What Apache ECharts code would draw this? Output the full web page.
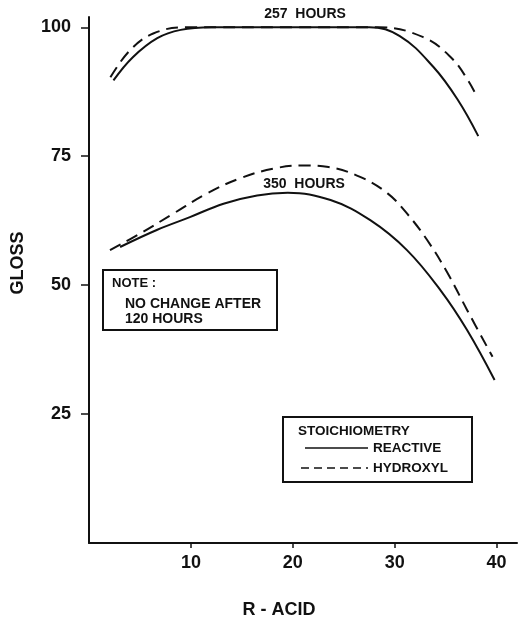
<!DOCTYPE html>
<html>
<head>
<meta charset="utf-8">
<script src="https://cdn.jsdelivr.net/npm/echarts@6/dist/echarts.min.js"></script>
<style>
  html, body { margin: 0; padding: 0; background: #fff; }
  #chart { width: 527px; height: 618px; }
</style>
</head>
<body>
<div id="chart"></div>
<script>
  // values: [R-acid, gloss]
  const reactive257 = [[2.4, 89.7], [4.3, 94.2], [6.7, 97.9], [9.0, 99.5], [12, 100], [20, 100], [27.5, 100], [30.5, 98.3], [33.8, 92.3], [36.2, 85.9], [38.2, 78.9]]
  const hydroxyl257 = [[2.1, 90.3], [4.0, 95.5], [6.3, 98.8], [9.5, 100], [20, 100], [28.5, 100], [32.8, 98.1], [35.5, 94.2], [37.2, 89.7], [38.1, 86.4]]
  const reactive350 = [[3.05, 57.4], [6.65, 60.7], [9.9, 63.2], [13.2, 65.8], [16.5, 67.4], [19.5, 67.9], [23.7, 66.5], [27.6, 62.6], [31.2, 56.8], [34.5, 49.0], [37.1, 41.3], [39.8, 31.6]]
  const hydroxyl350 = [[2.06, 56.8], [5.0, 60.0], [8.3, 63.9], [11.6, 67.8], [14.8, 70.7], [18.1, 72.6], [21.0, 73.2], [23.5, 72.9], [26.6, 71.0], [29.3, 67.8], [31.2, 63.9], [33.2, 58.7], [35.2, 52.3], [37.1, 45.2], [39.6, 36.1]]
  const xTicks = [10, 20, 30, 40]
  const yTicks = [25, 50, 75, 100]

  const font = 'Liberation Sans'
  const ink = '#111'
  const dash = [12, 7]

  function curve(data, dashed) {
    return {
      type: 'line',
      data: data,
      smooth: 0.4,
      showSymbol: false,
      lineStyle: { color: ink, width: 2, type: dashed ? dash : 'solid' }
    }
  }

  const myChart = echarts.init(document.getElementById('chart'))
  myChart.setOption({
    backgroundColor: '#fff',
    animation: false,
    grid: { left: 89, right: 10, top: 17, bottom: 75 },
    xAxis: {
      type: 'value',
      min: 0,
      max: 42,
      splitLine: { show: false },
      axisLine: { lineStyle: { color: ink, width: 2 } },
      axisTick: { customValues: xTicks, length: 5, lineStyle: { color: ink, width: 1.5 } },
      axisLabel: { customValues: xTicks, margin: 11, color: ink, fontFamily: font, fontWeight: 'bold', fontSize: 18 }
    },
    yAxis: {
      type: 'value',
      min: 0,
      max: 102,
      splitLine: { show: false },
      axisLine: { show: true, lineStyle: { color: ink, width: 2 } },
      axisTick: { show: true, customValues: yTicks, length: 8, lineStyle: { color: ink, width: 1.5 } },
      axisLabel: { customValues: yTicks, margin: 18, color: ink, fontFamily: font, fontWeight: 'bold', fontSize: 18 }
    },
    series: [
      curve(reactive257, false),
      curve(hydroxyl257, true),
      curve(reactive350, false),
      curve(hydroxyl350, true)
    ],
    graphic: [
      { type: 'text', x: 18, y: 263, rotation: Math.PI / 2,
        style: { text: 'GLOSS', fill: ink, font: 'bold 18px "Liberation Sans"', align: 'center', verticalAlign: 'middle' } },
      { type: 'text', x: 279, y: 610,
        style: { text: 'R - ACID', fill: ink, font: 'bold 18px "Liberation Sans"', align: 'center', verticalAlign: 'middle' } },
      { type: 'text', x: 305, y: 14,
        style: { text: '257  HOURS', fill: ink, font: 'bold 14px "Liberation Sans"', align: 'center', verticalAlign: 'middle' } },
      { type: 'text', x: 304, y: 184,
        style: { text: '350  HOURS', fill: ink, font: 'bold 14px "Liberation Sans"', align: 'center', verticalAlign: 'middle' } },
      // note box
      { type: 'rect', shape: { x: 103, y: 270, width: 174, height: 60 },
        style: { fill: '#fff', stroke: ink, lineWidth: 2 } },
      { type: 'text', x: 112, y: 283,
        style: { text: 'NOTE :', fill: ink, font: 'bold 13px "Liberation Sans"', verticalAlign: 'middle' } },
      { type: 'text', x: 125, y: 304,
        style: { text: 'NO CHANGE AFTER', fill: ink, font: 'bold 14px "Liberation Sans"', verticalAlign: 'middle' } },
      { type: 'text', x: 125, y: 319,
        style: { text: '120 HOURS', fill: ink, font: 'bold 14px "Liberation Sans"', verticalAlign: 'middle' } },
      // legend box
      { type: 'rect', shape: { x: 283, y: 417, width: 189, height: 65 },
        style: { fill: '#fff', stroke: ink, lineWidth: 2 } },
      { type: 'text', x: 298, y: 431,
        style: { text: 'STOICHIOMETRY', fill: ink, font: 'bold 13.5px "Liberation Sans"', verticalAlign: 'middle' } },
      { type: 'line', shape: { x1: 305, y1: 448, x2: 368, y2: 448 },
        style: { stroke: ink, lineWidth: 1.5 } },
      { type: 'text', x: 373, y: 448,
        style: { text: 'REACTIVE', fill: ink, font: 'bold 13.5px "Liberation Sans"', verticalAlign: 'middle' } },
      { type: 'line', shape: { x1: 301, y1: 468, x2: 368, y2: 468 },
        style: { stroke: ink, lineWidth: 1.5, lineDash: [8, 5] } },
      { type: 'text', x: 373, y: 468,
        style: { text: 'HYDROXYL', fill: ink, font: 'bold 13.5px "Liberation Sans"', verticalAlign: 'middle' } }
    ]
  })
</script>
</body>
</html>
